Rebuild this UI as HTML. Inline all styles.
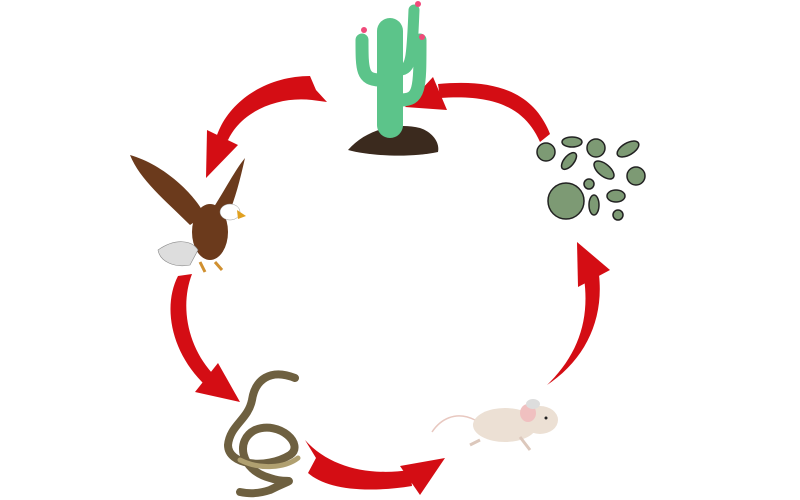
<!DOCTYPE html>
<html><head><meta charset="utf-8"><style>html,body{margin:0;padding:0;background:#fff;width:800px;height:500px;overflow:hidden}</style></head>
<body>
<svg width="800" height="500" viewBox="0 0 800 500" xmlns="http://www.w3.org/2000/svg">
<g fill="#d40d14">
<!-- arrow 1 cactus -> eagle -->
<path d="M327,102 L312,100 C280,96 242,110 228,140 L216,138 C228,100 268,76 310,76 L316,90 Z"/>
<polygon points="207,130 238,145 206,178"/>
<!-- arrow 2 bacteria -> cactus -->
<path d="M540,142 C525,108 495,94 440,98 L438,84 C500,78 535,95 550,134 Z"/>
<polygon points="433,77 447,110 405,107"/>
<!-- arrow 3 eagle -> snake -->
<path d="M192,274 C180,305 187,345 212,373 L203,383 C170,350 163,305 178,276 Z"/>
<polygon points="218,363 195,392 240,402"/>
<!-- arrow 4 snake -> mouse -->
<path d="M305,440 C330,468 370,476 410,470 L412,486 C362,494 325,488 308,473 L316,458 Z"/>
<polygon points="400,466 445,458 420,495"/>
<!-- arrow 5 mouse -> bacteria -->
<path d="M547,385 C585,360 604,320 599,275 L584,278 C590,320 578,355 547,385 Z"/>
<polygon points="577,242 610,270 578,287"/>
</g>
<!-- cactus -->
<g>
<path d="M348,150 C365,130 395,122 420,128 C432,132 440,142 438,152 C410,158 370,156 348,150 Z" fill="#3b2a1e"/>
<rect x="377" y="18" width="26" height="120" rx="13" fill="#5cc48a"/>
<path d="M380,80 C362,80 362,70 362,40" stroke="#5cc48a" stroke-width="13" fill="none" stroke-linecap="round"/>
<path d="M400,100 C420,100 420,90 420,40" stroke="#5cc48a" stroke-width="13" fill="none" stroke-linecap="round"/>
<path d="M400,70 C412,70 412,55 414,10" stroke="#5cc48a" stroke-width="11" fill="none" stroke-linecap="round"/>
<circle cx="364" cy="30" r="3" fill="#f04a7a"/><circle cx="422" cy="37" r="3" fill="#f04a7a"/><circle cx="418" cy="4" r="3" fill="#f04a7a"/>
</g>
<!-- eagle -->
<g>
<path d="M130,155 C165,165 195,195 205,215 L190,225 C165,200 140,180 130,155 Z" fill="#6b3a1c"/>
<path d="M245,158 C240,180 235,200 228,215 L212,210 C225,190 235,170 245,158 Z" fill="#6b3a1c"/>
<ellipse cx="210" cy="232" rx="18" ry="28" fill="#6b3a1c"/>
<ellipse cx="230" cy="212" rx="10" ry="8" fill="#fff" stroke="#999" stroke-width="0.5"/>
<polygon points="237,210 246,216 238,219" fill="#e0a020"/>
<path d="M158,250 C175,238 192,240 198,250 L190,265 C175,268 160,262 158,250 Z" fill="#ddd" stroke="#888" stroke-width="0.6"/>
<path d="M200,262 L205,272 M215,262 L222,270" stroke="#d09030" stroke-width="3"/>
</g>
<!-- snake -->
<g fill="none" stroke-linecap="round">
<path d="M295,378 C270,368 255,380 252,400 C248,420 230,425 228,445 C228,465 265,470 290,455 C305,445 280,420 255,430 C235,440 240,470 270,478 C290,485 300,475 270,490 C255,495 245,493 240,492" stroke="#6e6040" stroke-width="8"/>
<path d="M240,460 C260,470 285,468 298,458" stroke="#b0a070" stroke-width="5"/>
</g>
<!-- mouse -->
<g>
<path d="M475,420 C455,410 440,420 432,432" stroke="#e8c8c0" stroke-width="1.5" fill="none"/>
<ellipse cx="505" cy="425" rx="32" ry="17" fill="#ece0d4"/>
<ellipse cx="540" cy="420" rx="18" ry="14" fill="#ece0d4"/>
<ellipse cx="528" cy="413" rx="8" ry="9" fill="#f0c0c0"/>
<ellipse cx="533" cy="404" rx="7" ry="5" fill="#ddd"/>
<circle cx="546" cy="418" r="1.5" fill="#222"/>
<path d="M480,440 L470,445 M520,437 L530,450" stroke="#dcc8bc" stroke-width="3"/>
</g>
<!-- bacteria -->
<g fill="#7d9a74" stroke="#222" stroke-width="1.5">
<circle cx="546" cy="152" r="9"/>
<circle cx="596" cy="148" r="9"/>
<circle cx="636" cy="176" r="9"/>
<circle cx="566" cy="201" r="18"/>
<ellipse cx="572" cy="142" rx="10" ry="5"/>
<ellipse cx="569" cy="161" rx="5" ry="10" transform="rotate(40 569 161)"/>
<ellipse cx="628" cy="149" rx="12" ry="6" transform="rotate(-30 628 149)"/>
<ellipse cx="604" cy="170" rx="12" ry="6" transform="rotate(40 604 170)"/>
<ellipse cx="594" cy="205" rx="5" ry="10"/>
<ellipse cx="589" cy="184" rx="5" ry="5"/>
<ellipse cx="616" cy="196" rx="9" ry="6"/>
<circle cx="618" cy="215" r="5"/>
</g>
</svg>
</body></html>
